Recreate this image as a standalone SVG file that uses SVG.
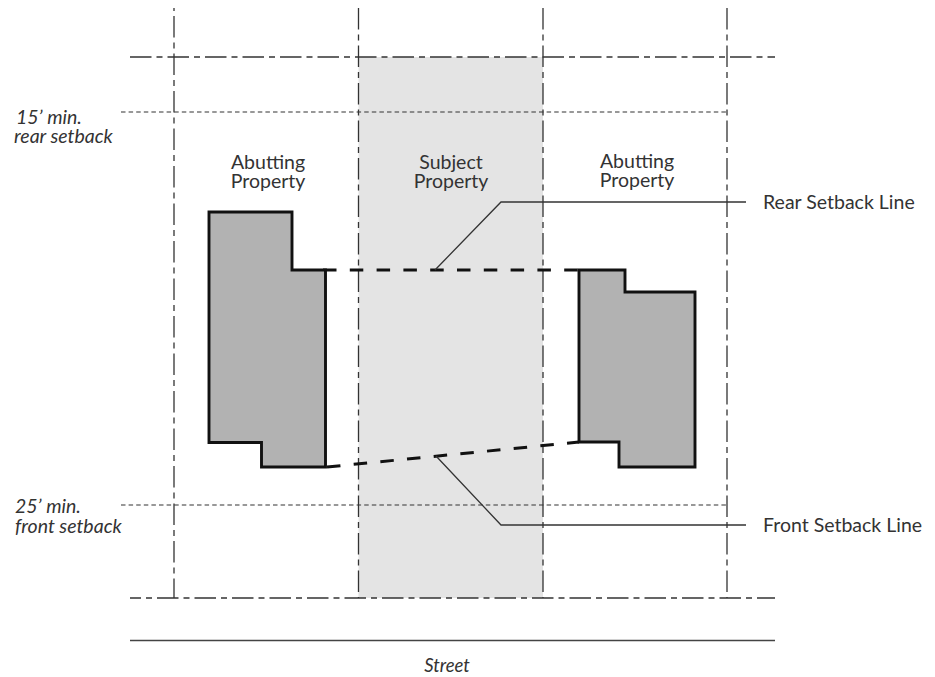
<svg xmlns="http://www.w3.org/2000/svg" width="935" height="677" viewBox="0 0 935 677">
<style>
.dd{fill:none;stroke:#333;stroke-width:1.3;stroke-dasharray:21.5 5 6 5}
.dot{fill:none;stroke:#333;stroke-width:1.1;stroke-dasharray:4.5 3.1}
.bld{fill:#b2b2b2;stroke:#111;stroke-width:2.9}
.sb{fill:none;stroke:#111;stroke-width:3;stroke-dasharray:13.500 13.300}
.ld{fill:none;stroke:#333;stroke-width:1.3}
text{font-family:"Lato","Open Sans",sans-serif;fill:#333;font-size:19.5px}
.c{text-anchor:middle}
.i{font-style:italic}
</style>
<rect id="subject-lot" x="358.500" y="57" width="184.500" height="541" fill="#e4e4e4"/>
<g id="connectors">
<path class="dd" d="M130 57H775"/>
<path class="dd" stroke-dashoffset="10.500" d="M130 598H775"/>
<path class="dot" d="M121 112H727"/>
<path class="dot" d="M121 505H727"/>
<path class="dd" stroke-dashoffset="29.500" d="M174 8V598"/>
<path class="dd" d="M358.500 8V598"/>
<path class="dd" d="M543 8V598"/>
<path class="dd" d="M727 8V598"/>
<path d="M130 640.500H775" fill="none" stroke="#444" stroke-width="1.3"/>
<path class="sb" d="M323 270H579"/>
<path class="sb" d="M327 467L579 442"/>
<path class="ld" d="M435 270L501 202H746"/>
<path class="ld" d="M436 456L501 525H746"/>
</g>
<g id="abutting-left"><path class="bld" d="M209 212H292V270H325.500V467H261.500V442.500H209Z"/><text class="c" x="268" y="169">Abutting</text><text class="c" x="268" y="188">Property</text></g>
<g id="abutting-right"><path class="bld" d="M579 270H625V292H695V467H619V442H579Z"/><text class="c" x="637" y="168">Abutting</text><text class="c" x="637" y="187">Property</text></g>
<g id="subject"><text class="c" x="451" y="169">Subject</text><text class="c" x="451" y="188">Property</text></g>
<g id="labels">
<text x="763" y="209">Rear Setback Line</text>
<text x="763" y="532">Front Setback Line</text>
<text class="i" x="16" y="124">15’ min.</text>
<text class="i" x="14" y="143">rear setback</text>
<text class="i" x="15" y="513">25’ min.</text>
<text class="i" x="15" y="533">front setback</text>
<text class="i c" x="447" y="672" style="font-size:18.500px">Street</text>
</g>
</svg>
